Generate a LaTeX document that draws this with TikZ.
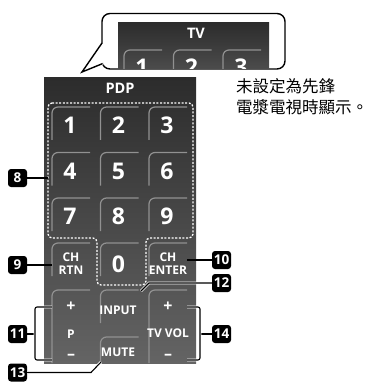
\documentclass[tikz,border=0pt]{standalone}
\usepackage{fontspec}
\setmainfont{Open Sans}
\newfontfamily\cjk{Noto Sans CJK TC}
\usetikzlibrary{positioning,calc}
\definecolor{pnltop}{RGB}{44,44,44}
\definecolor{pnlbot}{RGB}{100,100,100}
\definecolor{rimc}{RGB}{145,145,145}
\tikzset{digit/.style={text=white,font=\bfseries\fontsize{23}{23}\selectfont,inner sep=0pt},
 btn/.style={text=white,font=\bfseries\fontsize{12}{13}\selectfont,align=center,inner sep=0pt},
 sign/.style={btn,font=\bfseries\fontsize{16}{16}\selectfont},
 pnlname/.style={text=white,font=\bfseries\fontsize{14.5}{15}\selectfont,inner sep=0pt},
 tagbox/.style={fill=black,rounded corners=3pt,text=white,font=\bfseries\fontsize{13.5}{13.5}\selectfont,minimum width=19pt,minimum height=18pt,inner sep=0pt},
 rim/.style={draw=rimc,line width=1.2pt,rounded corners=6pt},
 lead/.style={line width=1.1pt,preaction={draw=white,line width=2.8pt}},
 dotline/.style={draw=white,line width=1.3pt,dash pattern=on 2pt off 1.6pt,rounded corners=4pt},
 bubble/.style={draw,line width=1.4pt,rounded corners=8pt,fill=white},
 cjkt/.style={font=\cjk\fontsize{16.5}{21}\selectfont,inner sep=0pt}}
\begin{document}
\begin{tikzpicture}[x=1pt,y=-1pt]
\useasboundingbox (0,0) rectangle (370,382);
% bubble with TV keys
\draw[bubble] (102,13.5) rectangle (285,69);
\fill[white] (103.6,42) -- (82,72) -- (103.6,64.5) -- cycle;
\draw[bubble,fill=none,sharp corners] (102,43) -- (82,72) -- (102.6,63.6);
\begin{scope}
\clip (118,23) rectangle (269,68.2);
\shade[top color=pnltop,bottom color=pnltop!85!white] (118,23) rectangle (269,69);
\node[pnlname] (tv) at (196,33) {TV};
\foreach \n [count=\i from 0] in {1,2,3}{
 \draw[rim] (124+49.5*\i,80) -- (124+49.5*\i,50) -- (162+49.5*\i,50);
 \node[digit] (t\n) at (142+49.5*\i,67) {\n};}
\end{scope}
% PDP panel
\shade[top color=pnltop,bottom color=pnlbot] (44,78) rectangle (196,363);
\node[pnlname] (pdp) at (120,88) {PDP};
\foreach \n [count=\i from 0] in {1,...,9}{
 \pgfmathsetmacro\x{52+48.5*mod(\i,3)}
 \pgfmathsetmacro\y{107+45.5*div(\i,3)}
 \draw[rim] (\x,\y+33) -- (\x,\y) -- (\x+38,\y);
 \node[digit] (k\n) at (\x+18,\y+18.5) {\n};}
\foreach \x in {52,100.5,149}{\draw[rim] (\x,276) -- (\x,243) -- (\x+38,243);}
\node[btn] (rtn) at (71,263.5) {CH\\RTN};
\node[digit] (k0) at (118.5,264) {0};
\node[btn] (enter) at (168,263.5) {CH\\ENTER};
\draw[dotline] (48,103) -- (193,103) -- (193,238) -- (146,238) -- (146,285) -- (97,285) -- (97,238) -- (48,238) -- cycle;
% lower keys
\draw[rim] (52,363) -- (52,290) -- (90,290);
\draw[rim] (100.5,323) -- (100.5,290) -- (138.5,290);
\draw[rim] (100.5,363) -- (100.5,337) -- (138.5,337);
\draw[rim] (149,363) -- (149,290) -- (187,290);
\node[sign] (pup) at (71,307) {+};
\node[btn] (p) at (71,334) {P};
\node[sign] (pdn) at (71,357) {–};
\node[btn] (input) at (118,310) {INPUT};
\node[btn] (mute) at (118,352) {MUTE};
\node[sign] (vup) at (168,307) {+};
\node[btn] (vol) at (168,333) {TV VOL};
\node[sign] (vdn) at (168,357) {–};
% note
\node[cjkt,anchor=base west] (note1) at (236,93) {未設定為先鋒};
\node[cjkt,anchor=base west] (note2) at (236,114) {電漿電視時顯示。};
% tags
\node[tagbox] (b8) at (17.5,178) {8};
\node[tagbox] (b9) at (17.5,265) {9};
\node[tagbox] (b11) at (17.5,334) {11};
\node[tagbox] (b13) at (17.5,372.5) {13};
\node[tagbox] (b10) at (221.5,260) {10};
\node[tagbox] (b12) at (221.5,283) {12};
\node[tagbox] (b14) at (221.5,334) {14};
\coordinate (p8) at (48,178);
\coordinate (p9) at (52,265);
\coordinate (p10) at (187,260);
\coordinate (p12) at (141,291);
\coordinate (p13) at (101,362);
\coordinate (p11a) at (52,307); \coordinate (p11b) at (52,360); \coordinate (j11) at (35,334);
\coordinate (p14a) at (187,307); \coordinate (p14b) at (187,360); \coordinate (j14) at (200,334);
\foreach \u/\v in {p8/b8,p9/b9,p10/b10,j11/b11,j14/b14}{\draw[lead] (\u)--(\v);}
\draw[lead] (p12) -- ++(8,-8) -- (b12);
\draw[lead] (p13) -- ++(-10,10.5) -- (b13);
\draw[lead,rounded corners=2pt] (p11a) -| (j11) |- (p11b);
\draw[lead,rounded corners=2pt] (p14a) -| (j14) |- (p14b);
\end{tikzpicture}
\end{document}
